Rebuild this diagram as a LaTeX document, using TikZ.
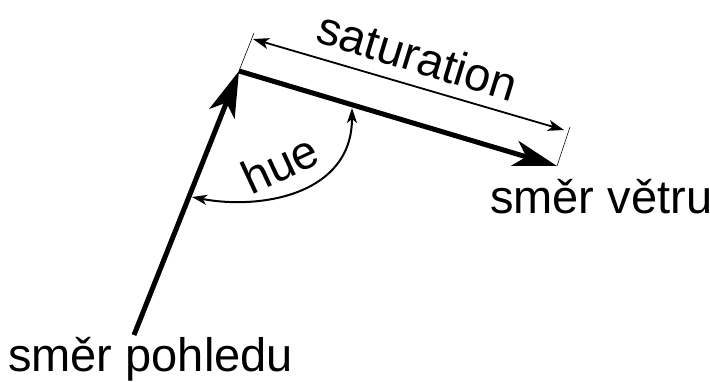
\documentclass[tikz,border=0pt]{standalone}
\usepackage{fontspec}
\setmainfont{Liberation Sans}
\usepackage{tikz}
\usetikzlibrary{arrows.meta}

\begin{document}
\begin{tikzpicture}[x=1pt,y=-1pt,every node/.style={font=\fontsize{47}{47}\selectfont,inner sep=0pt}]
    \useasboundingbox (0,0) rectangle (710,381);
    % Directions
    \coordinate (oko) at (134,335);
    \coordinate (vrchol) at (239,71);
    \coordinate (vitr) at (557,166);
    \draw[line width=5pt,-{Stealth[length=46pt,width=27pt,inset=12pt]}] (oko) -- (vrchol);
    \draw[line width=5pt,-{Stealth[length=44pt,width=26pt,inset=12pt]}] (vrchol) -- (vitr);

    % Saturation dimension
    \coordinate (satA) at (253,39);
    \coordinate (satB) at (564,130);
    \coordinate (extA) at (254,33);
    \coordinate (extB) at (570,127);
    \draw[line width=0.6pt] (extA) -- (vrchol);
    \draw[line width=0.6pt] (extB) -- (vitr);
    \draw[line width=1.8pt,{Stealth[length=16pt,width=11pt,inset=4pt]}-{Stealth[length=16pt,width=11pt,inset=4pt]}] (satA) -- (satB);
    \node[rotate=-17] (sat) at (418,56) {saturation};

    % Hue angle
    \coordinate (hueA) at (192,197);
    \coordinate (hueB) at (352,108);
    \draw[line width=2pt,{Stealth[length=15pt,width=10pt,inset=4pt]}-{Stealth[length=15pt,width=10pt,inset=4pt]}]
      (hueA) .. controls (260,210) and (352,195) .. (hueB);
    \node[rotate=25] (hue) at (280,164) {hue};

    % Labels
    \node[anchor=base west] (smerv) at (490,213) {směr větru};
    \node[anchor=base west] (smerp) at (8,371) {směr pohledu};
\end{tikzpicture}
\end{document}
